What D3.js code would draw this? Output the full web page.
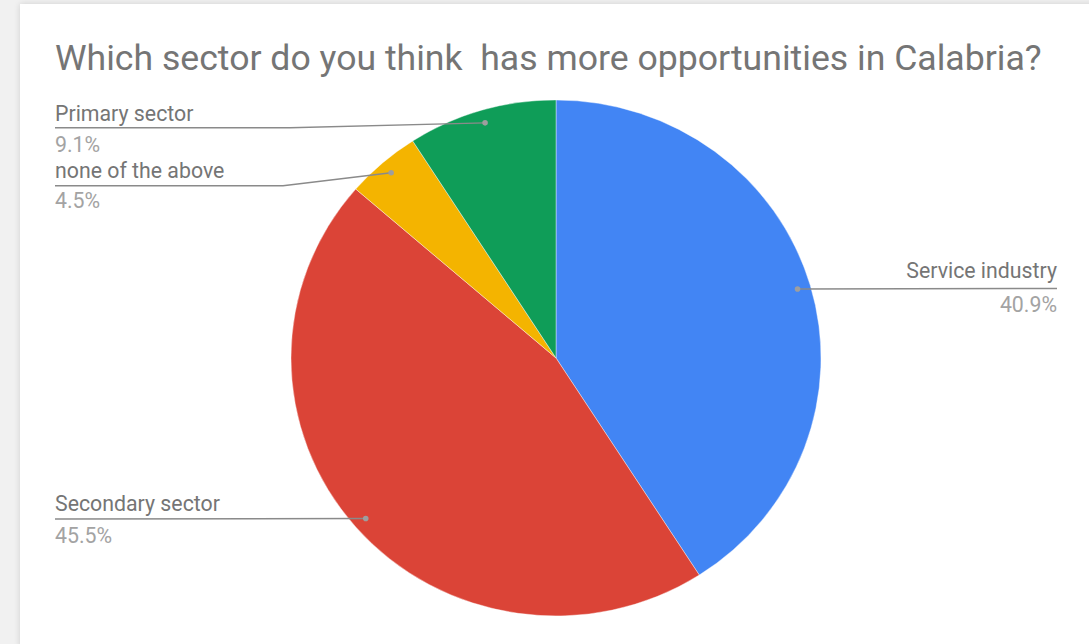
<!DOCTYPE html>
<html>
<head>
<meta charset="utf-8">
<script src="https://cdn.jsdelivr.net/npm/d3@7"></script>
<style>
  html, body { margin: 0; padding: 0; background: #f0f0f0; }
  svg { display: block; }
</style>
</head>
<body>
<svg id="chart" width="1089" height="644"></svg>
<script>
const categories = ["Service industry", "Secondary sector", "none of the above", "Primary sector"];
const values = [9, 10, 1, 2];
const percentLabels = ["40.9%", "45.5%", "4.5%", "9.1%"];
const colors = ["#4285f4", "#db4437", "#f4b400", "#0f9d58"];
const title = "Which sector do you think  has more opportunities in Calabria?";

const W = 1089, H = 644;
const svg = d3.select("#chart");

// background card
const defs = svg.append("defs");
const f = defs.append("filter").attr("id", "sh").attr("x", "-5%").attr("y", "-5%").attr("width", "110%").attr("height", "110%");
f.append("feGaussianBlur").attr("in", "SourceAlpha").attr("stdDeviation", 3);
f.append("feOffset").attr("dx", 0).attr("dy", 0).attr("result", "b");
f.append("feComponentTransfer").append("feFuncA").attr("type", "linear").attr("slope", 0.15);
const m = f.append("feMerge"); m.append("feMergeNode"); m.append("feMergeNode").attr("in", "SourceGraphic");

svg.append("rect").attr("width", W).attr("height", H).attr("fill", "#f1f1f1");
svg.append("rect").attr("x", 20).attr("y", 4).attr("width", W).attr("height", H)
  .attr("fill", "#ffffff").attr("filter", "url(#sh)");

// title
const t = svg.append("text").attr("x", 55).attr("y", 70)
  .attr("font-family", "Roboto, sans-serif").attr("font-size", 30)
  .attr("fill", "#757575").attr("xml:space", "preserve").style("white-space", "pre").text(title);
const tw = t.node().getComputedTextLength();
t.attr("font-size", 30 * 987 / tw);

// pie
const cx = 556, cy = 358, rx = 265, ry = 258;
const pie = d3.pie().sort(null).value(d => d)(values);
const arc = d3.arc().innerRadius(0).outerRadius(rx);
const dotArc = d3.arc().innerRadius(rx * 0.95).outerRadius(rx * 0.95);
const sy = ry / rx;

const g = svg.append("g").attr("transform", `translate(${cx},${cy}) scale(1,${sy})`);
g.selectAll("path").data(pie).join("path")
  .attr("d", arc).attr("fill", (d, i) => colors[i])
  .attr("stroke", "#ffffff").attr("stroke-width", 0.4);

const dots = pie.map(d => { const c = dotArc.centroid(d); return [cx + c[0], cy + c[1] * sy]; });

// label layout: side, label baseline, line y, bend x
const layout = [
  { side: "right", base: 278, line: 288.5, pct: 312 },
  { side: "left", base: 511, line: 519, pct: 543 },
  { side: "left", base: 177.5, line: 185.7, pct: 208, bend: 283 },
  { side: "left", base: 121, line: 127.7, pct: 152, bend: 290 }
];
const leftX = 55, rightX = 1057;

const lab = svg.append("g").attr("font-family", "Roboto, sans-serif").attr("font-size", 21.3);
layout.forEach((L, i) => {
  const [dx, dy] = dots[i];
  let pts;
  if (L.side === "right") {
    pts = [[dx, dy], [rightX, L.line]];
  } else if (L.bend) {
    pts = [[leftX, L.line], [L.bend, L.line], [dx, dy]];
  } else {
    pts = [[leftX, L.line], [dx, dy]];
  }
  lab.append("path").attr("d", d3.line()(pts)).attr("fill", "none")
    .attr("stroke", "#8a8a8a").attr("stroke-width", 1.4);
  lab.append("circle").attr("cx", dx).attr("cy", dy).attr("r", 2.8).attr("fill", "#9e9e9e");
  const x = L.side === "right" ? rightX : leftX;
  const anchor = L.side === "right" ? "end" : "start";
  lab.append("text").attr("x", x).attr("y", L.base).attr("text-anchor", anchor)
    .attr("fill", "#757575").text(categories[i]);
  lab.append("text").attr("x", x).attr("y", L.pct).attr("text-anchor", anchor)
    .attr("fill", "#a3a3a3").text(percentLabels[i]);
});
</script>
</body>
</html>
